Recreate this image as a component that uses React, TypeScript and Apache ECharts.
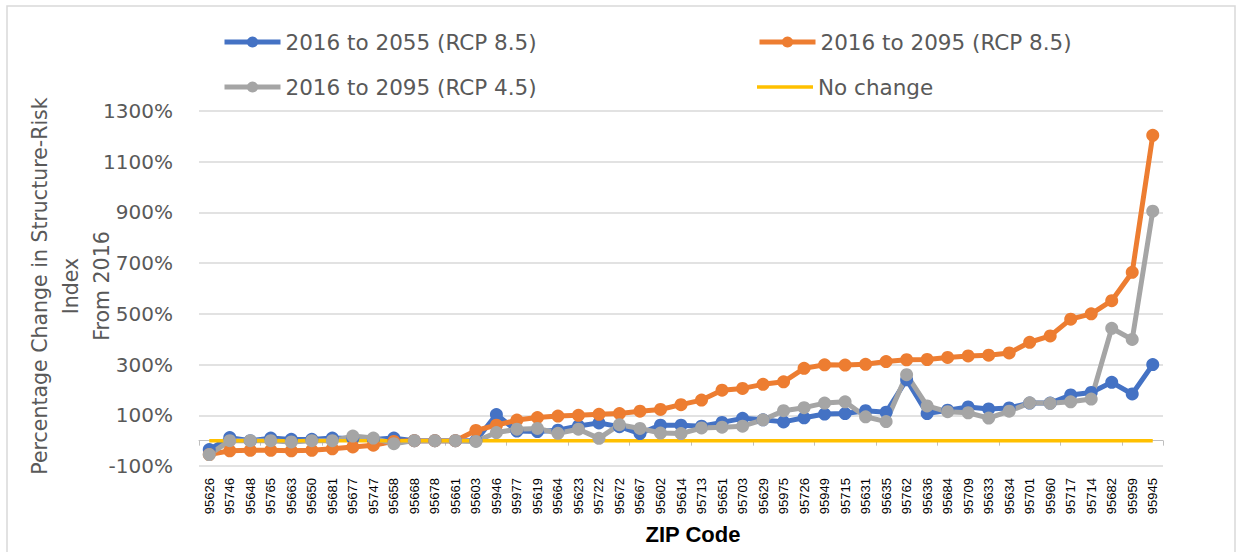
import React, { useEffect, useRef } from "react";
import * as echarts from "echarts";

const zipCodes = [
  "95626", "95746", "95648", "95765", "95663", "95650", "95681", "95677", "95747", "95658",
  "95668", "95678", "95661", "95603", "95946", "95977", "95619", "95664", "95623", "95722",
  "95672", "95667", "95602", "95614", "95713", "95651", "95703", "95629", "95975", "95726",
  "95949", "95715", "95631", "95635", "95762", "95636", "95684", "95709", "95633", "95634",
  "95701", "95960", "95717", "95714", "95682", "95959", "95945",
];

const rcp85to2055 = [
  -35, 12, 0, 10, 5, 5, 10, 8, 5, 10,
  0, 0, 0, 0, 103, 38, 36, 41, 58, 70,
  55, 28, 61, 61, 57, 72, 88, 82, 74, 90,
  105, 107, 118, 112, 240, 107, 120, 133, 125, 129,
  148, 148, 180, 190, 230, 184, 300,
];

const rcp85to2095 = [
  -55, -40, -38, -38, -40, -38, -32, -25, -18, -3,
  0, 0, 0, 40, 61, 81, 91, 97, 100, 104,
  107, 116, 123, 142, 160, 199, 206, 222, 232, 285,
  299, 298, 301, 312, 319, 320, 328, 334, 337, 346,
  388, 413, 479, 500, 552, 664, 1204,
];

const rcp45to2095 = [
  -55, 0, 0, 0, -5, 0, 0, 18, 10, -12,
  0, 0, 0, -3, 32, 45, 48, 29, 45, 9,
  63, 48, 30, 28, 50, 53, 57, 82, 118, 130,
  148, 153, 94, 75, 260, 137, 114, 110, 89, 116,
  149, 147, 153, 164, 443, 399, 905,
];

const noChange = [
  0, 0, 0, 0, 0, 0, 0, 0, 0, 0,
  0, 0, 0, 0, 0, 0, 0, 0, 0, 0,
  0, 0, 0, 0, 0, 0, 0, 0, 0, 0,
  0, 0, 0, 0, 0, 0, 0, 0, 0, 0,
  0, 0, 0, 0, 0, 0, 0,
];

const yTicks = [-100, 100, 300, 500, 700, 900, 1100, 1300];

const seriesNames = [
  "2016 to 2055 (RCP 8.5)",
  "2016 to 2095 (RCP 8.5)",
  "2016 to 2095 (RCP 4.5)",
  "No change",
];

const BLUE = "#4472C4";
const ORANGE = "#ED7D31";
const GRAY = "#A5A5A5";
const YELLOW = "#FFC000";
const TEXT = "#595959";

export default function App() {
  const ref = useRef<HTMLDivElement>(null);

  useEffect(() => {
    if (!ref.current) return;
    const chart = echarts.init(ref.current, null, { renderer: "svg" });

    const legendText = {
      fontFamily: "DejaVu Sans",
      fontSize: 21.5,
      color: TEXT,
    };
    const mkLegend = (name: string, left: number, top: number) => ({
      show: true,
      data: [name],
      left,
      top,
      padding: 0,
      orient: "horizontal",
      itemWidth: 56,
      itemHeight: 14,
      itemGap: 0,
      lineStyle: { width: 5 },
      textStyle: legendText,
      selectedMode: false,
    });

    const lineSeries = (name: string, data: number[], color: string) => ({
      name,
      type: "line",
      data,
      xAxisIndex: 1,
      yAxisIndex: 0,
      symbol: "circle",
      symbolSize: 13,
      showSymbol: true,
      lineStyle: { color, width: 5 },
      itemStyle: { color },
      emphasis: { disabled: true },
    });

    chart.setOption({
      animation: false,
      backgroundColor: "#FFFFFF",
      legend: [
        mkLegend(seriesNames[0], 222, 31),
        mkLegend(seriesNames[1], 757, 31),
        mkLegend(seriesNames[2], 222, 76),
        {
          show: true,
          data: [{ name: seriesNames[3], icon: "rect" }],
          left: 757,
          top: 76,
          padding: 0,
          orient: "horizontal",
          itemWidth: 56,
          itemHeight: 3.5,
          itemGap: 0,
          itemStyle: { color: YELLOW },
          textStyle: legendText,
          selectedMode: false,
        },
      ],
      grid: { left: 199, right: 78, top: 111, bottom: 86, containLabel: false },
      xAxis: [
        {
          type: "category",
          data: zipCodes,
          position: "top",
          boundaryGap: true,
          axisLine: { show: true, onZero: true, lineStyle: { color: "#BFBFBF", width: 1 } },
          axisTick: { show: true, inside: true, length: 5, lineStyle: { color: "#BFBFBF" } },
          axisLabel: { show: false },
          splitLine: { show: false },
        },
        {
          type: "category",
          data: zipCodes,
          position: "bottom",
          boundaryGap: true,
          axisLine: { show: false, onZero: false },
          axisTick: { show: false },
          axisLabel: {
            show: true,
            interval: 0,
            rotate: 90,
            margin: 12,
            fontFamily: "Liberation Sans",
            fontSize: 13,
            color: "#000000",
          },
          splitLine: { show: false },
        },
      ],
      yAxis: {
        type: "value",
        min: -100,
        max: 1300,
        axisLine: { show: false },
        axisTick: { show: false, customValues: yTicks },
        axisLabel: {
          customValues: yTicks,
          formatter: (v: number) => `${v}%`,
          fontFamily: "DejaVu Sans",
          fontSize: 20,
          color: TEXT,
          margin: 26,
        },
        splitLine: { show: true, lineStyle: { color: "#D9D9D9", width: 1.5 } },
      },
      series: [
        lineSeries(seriesNames[0], rcp85to2055, BLUE),
        lineSeries(seriesNames[1], rcp85to2095, ORANGE),
        lineSeries(seriesNames[2], rcp45to2095, GRAY),
        {
          name: seriesNames[3],
          type: "line",
          data: noChange,
          xAxisIndex: 1,
          yAxisIndex: 0,
          symbol: "none",
          showSymbol: false,
          lineStyle: { color: YELLOW, width: 3.5 },
          itemStyle: { color: YELLOW },
          emphasis: { disabled: true },
        },
      ],
      graphic: [
        {
          type: "rect",
          shape: { x: 7, y: 6, width: 1228, height: 570 },
          style: { fill: "none", stroke: "#D9D9D9", lineWidth: 1.5 },
          silent: true,
        },
        {
          type: "text",
          x: 71,
          y: 286,
          rotation: Math.PI / 2,
          style: {
            text: "Percentage Change in Structure-Risk\nIndex\nFrom 2016",
            fontFamily: "DejaVu Sans",
            fontSize: 20.5,
            lineHeight: 31,
            fill: TEXT,
            align: "center",
            verticalAlign: "middle",
          },
          silent: true,
        },
        {
          type: "text",
          x: 693,
          y: 534,
          style: {
            text: "ZIP Code",
            fontFamily: "Liberation Sans",
            fontWeight: "bold",
            fontSize: 22,
            fill: "#000000",
            align: "center",
            verticalAlign: "middle",
          },
          silent: true,
        },
      ],
    });

    return () => {
      chart.dispose();
    };
  }, []);

  return (
    <div
      ref={ref}
      style={{ position: "absolute", left: 0, top: 0, width: 1241, height: 552, background: "#fff" }}
    />
  );
}
